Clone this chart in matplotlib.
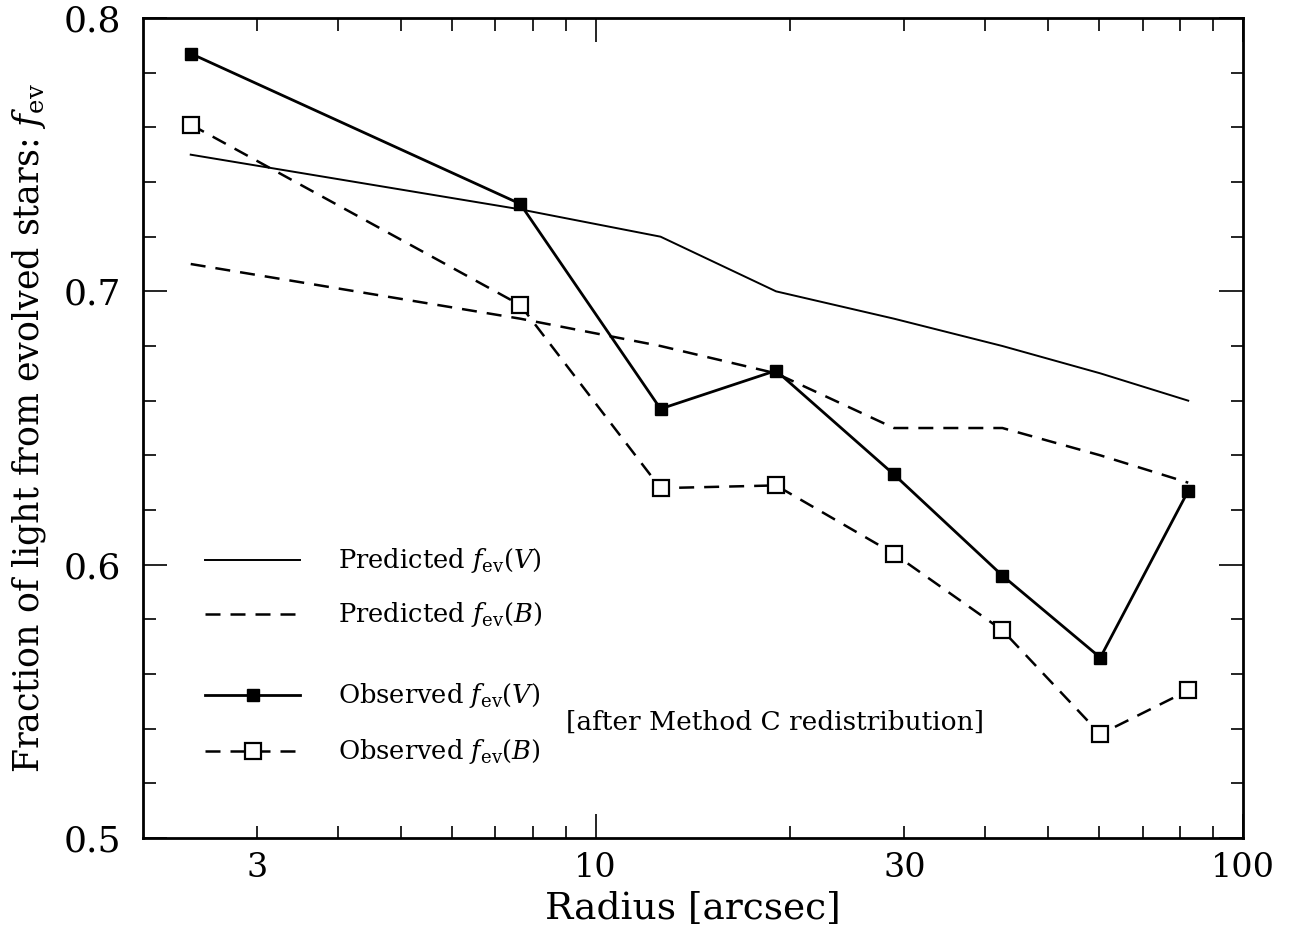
import numpy as np
import matplotlib.pyplot as plt
from matplotlib.ticker import FixedLocator, MultipleLocator, NullFormatter

plt.rcParams['font.family'] = 'DejaVu Serif'
plt.rcParams['mathtext.fontset'] = 'dejavuserif'

# radius [arcsec]
radius = [2.37, 7.65, 12.6, 19.0, 28.9, 42.5, 60.2, 82.3]

pred_V = [0.750, 0.730, 0.720, 0.700, 0.690, 0.680, 0.670, 0.660]
pred_B = [0.710, 0.690, 0.680, 0.670, 0.650, 0.650, 0.640, 0.630]
obs_V = [0.787, 0.732, 0.657, 0.671, 0.633, 0.596, 0.566, 0.627]
obs_B = [0.761, 0.695, 0.628, 0.629, 0.604, 0.576, 0.538, 0.554]

x_labels = ['3', '10', '30', '100']
x_label_pos = [3, 10, 30, 100]

fig = plt.figure(figsize=(12.94, 9.33), dpi=100)
ax = fig.add_axes([0.1105, 0.1018, 0.8501, 0.8789])

dash = (0, (6, 4))
ax.plot(radius, pred_V, color='black', linewidth=1.4)
ax.plot(radius, pred_B, color='black', linewidth=1.8, linestyle=dash)
ax.plot(radius, obs_V, color='black', linewidth=2.0, marker='s', markersize=8,
        markerfacecolor='black')
ax.plot(radius, obs_B, color='black', linewidth=1.8, linestyle=dash, marker='s',
        markersize=12, markerfacecolor='white', markeredgewidth=1.6)

ax.set_xscale('log')
ax.set_xlim(2, 100)
ax.set_ylim(0.5, 0.8)

ax.xaxis.set_major_locator(FixedLocator([10, 100]))
ax.xaxis.set_minor_locator(FixedLocator([3, 4, 5, 6, 7, 8, 9, 20, 30, 40, 50, 60, 70, 80, 90]))
ax.xaxis.set_major_formatter(NullFormatter())
ax.xaxis.set_minor_formatter(NullFormatter())
for xv, lab in zip(x_label_pos, x_labels):
    ax.text(xv, -0.017, lab, transform=ax.get_xaxis_transform(), ha='center', va='top', fontsize=24)

ax.yaxis.set_major_locator(MultipleLocator(0.1))
ax.yaxis.set_minor_locator(MultipleLocator(0.02))
ax.yaxis.set_major_formatter(plt.FuncFormatter(lambda v, p: f'{v:.1f}'))

ax.tick_params(which='both', direction='in', top=True, right=True, width=1.2)
ax.tick_params(which='major', length=17, labelsize=26)
ax.tick_params(axis='y', which='major', pad=16)
ax.tick_params(which='minor', length=9)
for s in ax.spines.values():
    s.set_linewidth(2.0)

ax.set_xlabel('Radius [arcsec]', fontsize=27)
ax.xaxis.set_label_coords(0.5, -0.064)
ax.set_ylabel(r'Fraction of light from evolved stars: $f_{\rm ev}$', fontsize=25)
ax.yaxis.set_label_coords(-0.086, 0.5)

# legend drawn by hand
tr = ax.transAxes
lx = [0.056, 0.143]
ax.plot(lx, [0.339, 0.339], color='black', linewidth=1.4, transform=tr)
ax.plot(lx, [0.273, 0.273], color='black', linewidth=1.8, linestyle=dash, transform=tr)
ax.plot(lx, [0.174, 0.174], color='black', linewidth=2.0, transform=tr)
ax.plot([0.1], [0.174], color='black', marker='s', markersize=8, transform=tr)
ax.plot(lx, [0.106, 0.106], color='black', linewidth=1.8, linestyle=dash, transform=tr)
ax.plot([0.1], [0.106], color='black', marker='s', markersize=12, markerfacecolor='white',
        markeredgewidth=1.6, transform=tr)

leg_text = [r'Predicted $f_{\rm ev}(V)$', r'Predicted $f_{\rm ev}(B)$',
            r'Observed $f_{\rm ev}(V)$', r'Observed $f_{\rm ev}(B)$']
for t, yy in zip(leg_text, [0.339, 0.273, 0.174, 0.106]):
    ax.text(0.177, yy, t, transform=tr, va='center', ha='left', fontsize=18.5)
ax.text(0.385, 0.141, '[after Method C redistribution]', transform=tr, va='center',
        ha='left', fontsize=19)

fig.savefig('out.png', dpi=100)
